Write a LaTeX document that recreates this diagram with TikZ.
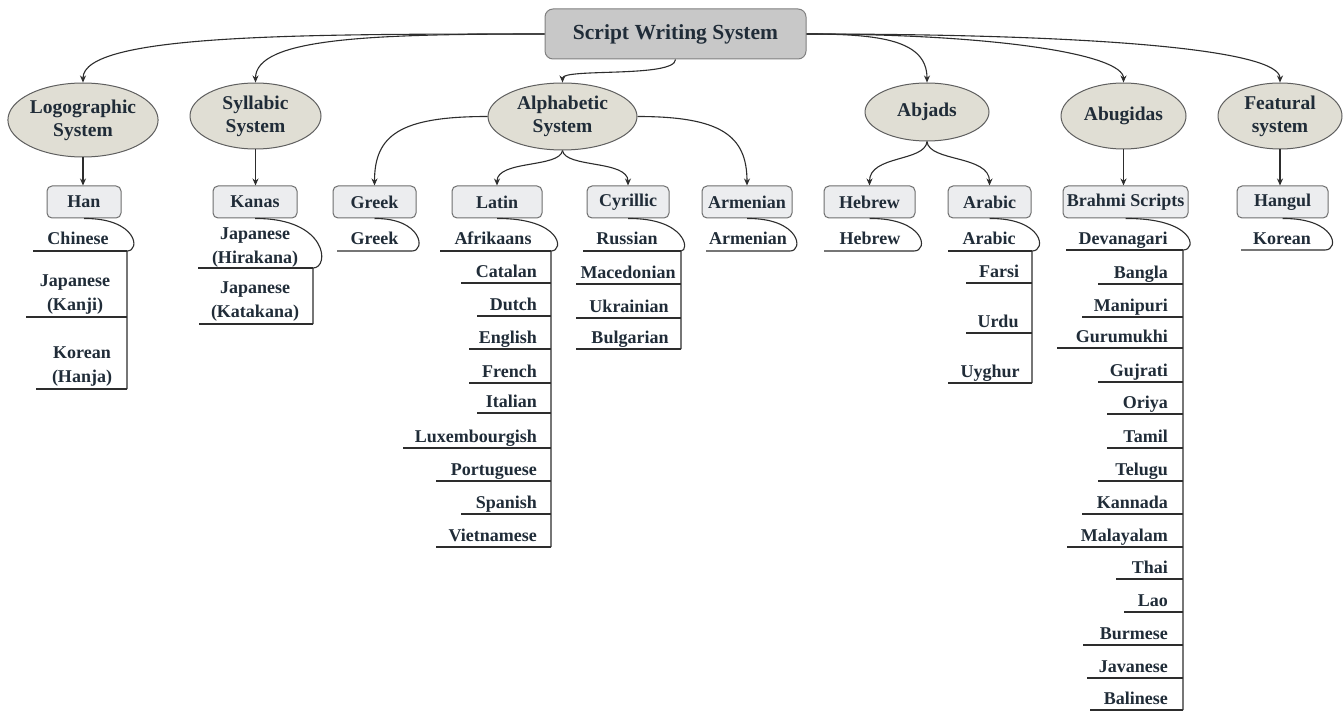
\documentclass[tikz,border=0pt]{standalone}
\usepackage{fontspec}
\setmainfont{Liberation Serif}
\usetikzlibrary{arrows.meta,shapes.geometric}

\definecolor{ink}{RGB}{32,44,56}
\definecolor{rootfill}{RGB}{200,200,200}
\definecolor{rootline}{RGB}{128,128,128}
\definecolor{ellfill}{RGB}{224,222,212}
\definecolor{ellline}{RGB}{95,95,95}
\definecolor{boxfill}{RGB}{236,237,239}
\definecolor{boxline}{RGB}{110,110,110}
\definecolor{wirecol}{RGB}{45,45,45}

\tikzset{
  rootbox/.style={draw=rootline, fill=rootfill, rounded corners=8pt, line width=1pt,
    inner sep=0pt, font=\fontsize{21.5}{25}\selectfont\bfseries, text=ink},
  family/.style={ellipse, draw=ellline, fill=ellfill, line width=1pt, inner sep=0pt,
    align=center, font=\fontsize{19.5}{23}\selectfont\bfseries, text=ink},
  scriptbox/.style={draw=boxline, fill=boxfill, rounded corners=5pt, line width=1pt,
    inner sep=0pt, minimum height=32pt, font=\fontsize{18}{21}\selectfont\bfseries, text=ink},
  lang/.style={inner sep=0pt, align=center, font=\fontsize{18}{24}\selectfont\bfseries, text=ink},
  arr/.style={draw=wirecol, line width=1.1pt, -{Stealth[length=7pt,width=6pt]}},
  wire/.style={draw=wirecol, line width=1.1pt},
}

\begin{document}
\begin{tikzpicture}[x=1pt,y=-1pt]
\fill[white] (0,0) rectangle (1343,711);
\useasboundingbox (0,0) rectangle (1343,711);

% root
\node[rootbox, minimum width=261pt, minimum height=50pt] (sws) at (675.5,34) {Script Writing System};

% writing-system families
\node[family, minimum width=148pt, minimum height=74pt] (logo)  at (83,120)    {Logographic\\System};
\node[family, minimum width=131pt, minimum height=66pt] (syll)  at (255.5,116) {Syllabic\\System};
\node[family, minimum width=149pt, minimum height=67pt] (alpha) at (562.5,116.5) {Alphabetic\\System};
\node[family, minimum width=124pt, minimum height=58pt] (abjad) at (927,112)   {Abjads};
\node[family, minimum width=125pt, minimum height=66pt] (abug)  at (1123.5,116) {Abugidas};
\node[family, minimum width=124pt, minimum height=66pt] (feat)  at (1280,116)  {Featural\\system};

% scripts
\node[scriptbox, minimum width=74pt]  (han)    at (84,202)     {Han};
\node[scriptbox, minimum width=84pt]  (kanas)  at (255,202)    {Kanas};
\node[scriptbox, minimum width=83pt]  (greek)  at (374.5,202)  {Greek};
\node[scriptbox, minimum width=90pt]  (latin)  at (497,202)    {Latin};
\node[scriptbox, minimum width=82pt]  (cyr)    at (628,202)    {Cyrillic};
\node[scriptbox, minimum width=90pt]  (arm)    at (747,202)    {Armenian};
\node[scriptbox, minimum width=91pt]  (heb)    at (869.5,202)  {Hebrew};
\node[scriptbox, minimum width=83pt]  (arab)   at (989.5,202)  {Arabic};
\node[scriptbox, minimum width=125pt] (brahmi) at (1125.5,202) {Brahmi Scripts};
\node[scriptbox, minimum width=91pt]  (hangul) at (1282.5,202) {Hangul};

% root to families
\draw[arr] (sws.west) .. controls (300,34) and (83,34) .. (logo.north);
\draw[arr] (sws.west) .. controls (370,34) and (255.5,38) .. (syll.north);
\draw[arr] (sws.south) .. controls (675,78) and (562.5,68) .. (alpha.north);
\draw[arr] (sws.east) .. controls (880,34) and (927,40) .. (abjad.north);
\draw[arr] (sws.east) .. controls (1000,34) and (1123.5,55) .. (abug.north);
\draw[arr] (sws.east) .. controls (1100,34) and (1280,50) .. (feat.north);

% families to scripts
\draw[arr] (logo.south) -- (logo.south |- han.north);
\draw[arr] (syll.south) -- (syll.south |- kanas.north);
\draw[arr] (alpha.west) .. controls (400,116.5) and (374.5,135) .. (greek.north);
\draw[arr] (alpha.south) .. controls (560,168) and (497,160) .. (latin.north);
\draw[arr] (alpha.south) .. controls (565,168) and (628,160) .. (cyr.north);
\draw[arr] (alpha.east) .. controls (720,116.5) and (747,135) .. (arm.north);
\draw[arr] (abjad.south) .. controls (925,162) and (869.5,155) .. (heb.north);
\draw[arr] (abjad.south) .. controls (929,162) and (989.5,155) .. (arab.north);
\draw[arr] (abug.south) -- (abug.south |- brahmi.north);
\draw[arr] (feat.south) -- (feat.south |- hangul.north);

% Han
\draw[wire] (han.south) .. controls (137,218) and (141,251) .. (127,251) -- (127,389);
\draw[wire] (33,251) -- (127,251);
\draw[wire] (26,317) -- (127,317);
\draw[wire] (36,389) -- (127,389);
\node[lang, anchor=base] (chinese) at (78,245) {Chinese};
\node[lang] (kanji) at (75,295) {Japanese\\(Kanji)};
\node[lang] (hanja) at (82,366.5) {Korean\\(Hanja)};

% Kanas
\draw[wire] (kanas.south) .. controls (328,218) and (330,268) .. (313,268) -- (313,324);
\draw[wire] (198,268) -- (313,268);
\draw[wire] (199,324) -- (313,324);
\node[lang] (hira) at (255,247.5) {Japanese\\(Hirakana)};
\node[lang] (kata) at (255,301.5) {Japanese\\(Katakana)};

% Greek
\draw[wire] (greek.south) .. controls (422,218) and (426,251) .. (412,251) -- (337,251);
\node[lang, anchor=base] (greekl) at (374.5,245) {Greek};

% Latin
\draw[wire] (latin.south) .. controls (561,218) and (565,251) .. (551,251) -- (551,547);
\draw[wire] (440,251) -- (551,251);
\node[lang, anchor=base] (lat0) at (493,245) {Afrikaans};
\foreach \t/\y/\l [count=\i] in {Catalan/283/461, Dutch/316/477, English/349/469,
    French/383/469, Italian/413/477, Luxembourgish/448/403, Portuguese/481/436,
    Spanish/514/461, Vietnamese/547/436} {
  \draw[wire] (\l,\y) -- (551,\y);
  \node[lang, anchor=base east] (lat\i) at (537,\y-6) {\t};
}

% Cyrillic
\draw[wire] (cyr.south) .. controls (686,218) and (690,251) .. (681,251) -- (681,349);
\draw[wire] (583,251) -- (681,251);
\node[lang, anchor=base] (cyr0) at (627,245) {Russian};
\foreach \t/\y/\c [count=\i] in {Macedonian/284/628, Ukrainian/318/629, Bulgarian/349/630} {
  \draw[wire] (576,\y) -- (681,\y);
  \node[lang, anchor=base] (cyr\i) at (\c,\y-6) {\t};
}

% Armenian
\draw[wire] (arm.south) .. controls (800,218) and (804,251) .. (790,251) -- (706,251);
\node[lang, anchor=base] (arml) at (748,245) {Armenian};

% Hebrew
\draw[wire] (heb.south) .. controls (925,218) and (929,251) .. (914,251) -- (824,251);
\node[lang, anchor=base] (hebl) at (870,245) {Hebrew};

% Arabic
\draw[wire] (arab.south) .. controls (1043,218) and (1047,251) .. (1032,251) -- (1032,383);
\draw[wire] (948,251) -- (1032,251);
\node[lang, anchor=base] (ara0) at (989,245) {Arabic};
\foreach \t/\y/\l/\c [count=\i] in {Farsi/283/966/999, Urdu/333/966/998, Uyghur/383/948/990} {
  \draw[wire] (\l,\y) -- (1032,\y);
  \node[lang, anchor=base] (ara\i) at (\c,\y-6) {\t};
}

% Brahmi
\draw[wire] (brahmi.south) .. controls (1194,218) and (1198,250) .. (1183,250) -- (1183,710);
\draw[wire] (1066,250) -- (1183,250);
\node[lang, anchor=base] (bra0) at (1123,245) {Devanagari};
\foreach \t/\y/\l [count=\i] in {Bangla/284/1098, Manipuri/317/1082, Gurumukhi/348/1057,
    Gujrati/382/1098, Oriya/414/1107, Tamil/448/1107, Telugu/481/1098, Kannada/514/1082,
    Malayalam/547/1067, Thai/579/1116, Lao/612/1124, Burmese/645/1083,
    Javanese/678/1087, Balinese/710/1090} {
  \draw[wire] (\l,\y) -- (1183,\y);
  \node[lang, anchor=base east] (bra\i) at (1168,\y-6) {\t};
}

% Hangul
\draw[wire] (hangul.south) .. controls (1336,218) and (1340,250) .. (1325,250) -- (1241,250);
\node[lang, anchor=base] (korean) at (1282,244) {Korean};
\end{tikzpicture}
\end{document}
